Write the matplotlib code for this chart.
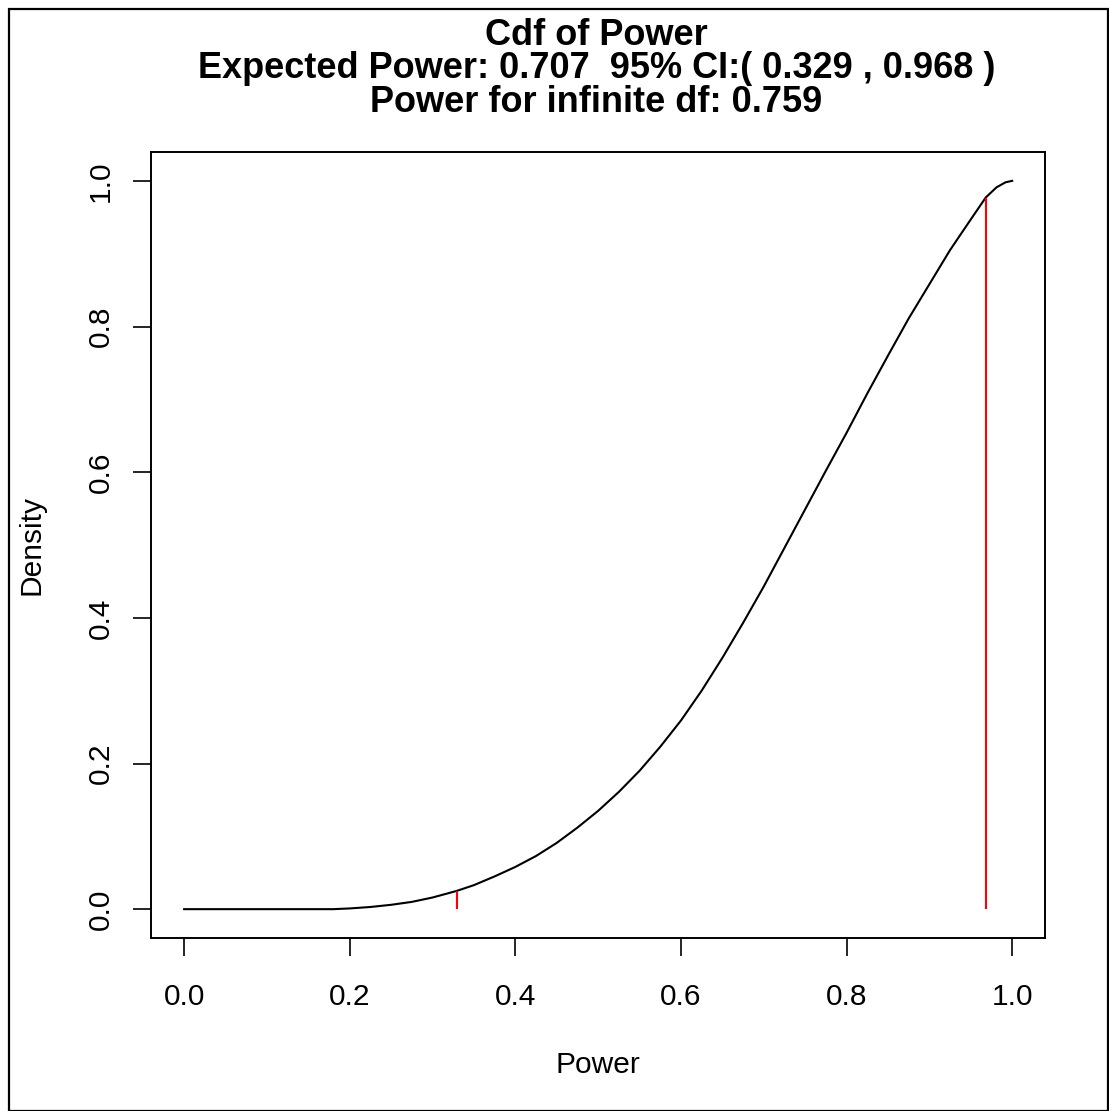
import matplotlib
matplotlib.use("Agg")
import matplotlib.pyplot as plt
from matplotlib.patches import Rectangle

# Data
power_x = [0.0, 0.10, 0.18, 0.20, 0.225, 0.25, 0.275, 0.30, 0.329, 0.35,
           0.375, 0.40, 0.425, 0.45, 0.475, 0.50, 0.525, 0.55, 0.575, 0.60,
           0.625, 0.65, 0.675, 0.70, 0.725, 0.75, 0.775, 0.80, 0.825, 0.85,
           0.875, 0.90, 0.925, 0.95, 0.968, 0.981, 0.992, 1.0]
cdf_y = [0.0, 0.0, 0.0, 0.001, 0.003, 0.006, 0.010, 0.016, 0.025, 0.033,
         0.045, 0.058, 0.073, 0.091, 0.112, 0.135, 0.161, 0.190, 0.223, 0.259,
         0.300, 0.345, 0.393, 0.443, 0.496, 0.549, 0.602, 0.654, 0.708, 0.760,
         0.811, 0.858, 0.905, 0.947, 0.977, 0.991, 0.998, 1.0]
ci_x = [0.329, 0.968]
ci_y = [0.025, 0.977]
xticks = [0.0, 0.2, 0.4, 0.6, 0.8, 1.0]
yticks = [0.0, 0.2, 0.4, 0.6, 0.8, 1.0]
title_lines = ["Cdf of Power",
               "Expected Power: 0.707  95% CI:( 0.329 , 0.968 )",
               "Power for infinite df: 0.759"]

W, H = 1109, 1111
plt.rcParams['font.family'] = ['Liberation Sans', 'DejaVu Sans']
fig = plt.figure(figsize=(W / 100, H / 100), dpi=100)
fig.patch.set_facecolor('white')

# outer border
fig.patches.append(Rectangle((9 / W, 0.5 / H), (1108 - 9) / W, (H - 9 - 0.5) / H,
                             transform=fig.transFigure, fill=False,
                             edgecolor='black', linewidth=1.6))

left, right, top, bottom = 151, 1045.3, 151.7, 938.3
ax = fig.add_axes([left / W, 1 - bottom / H, (right - left) / W, (bottom - top) / H])
ax.plot(power_x, cdf_y, color='black', linewidth=1.5)
ax.vlines(ci_x, 0, ci_y, color='#ff0000', linewidth=1.5)
ax.set_xlim(-0.04, 1.04)
ax.set_ylim(-0.04, 1.04)
ax.set_xticks(xticks)
ax.set_yticks(yticks)
ax.set_xticklabels([f"{v:.1f}" for v in xticks])
ax.set_yticklabels([f"{v:.1f}" for v in yticks], rotation=90, va='center')
ax.tick_params(direction='out', length=13, width=1.2, labelsize=21.5, color='black')
ax.tick_params(axis='x', pad=19)
ax.tick_params(axis='y', pad=13)
for s in ax.spines.values():
    s.set_linewidth(1.4)

ax.set_xlabel("Power", fontsize=21.5, va='center')
ax.xaxis.set_label_coords(0.5, (bottom - 1065) / (bottom - top))
ax.set_ylabel("Density", fontsize=21.5, va='center')
ax.yaxis.set_label_coords((32 - left) / (right - left), 0.5)

cx = 596.5 / W
for line, yb in zip(title_lines, [45, 78.5, 112.5]):
    fig.text(cx, 1 - yb / H, line, ha='center', va='baseline',
             fontsize=26, fontweight='bold')

fig.savefig("out.png", dpi=100, facecolor='white')
